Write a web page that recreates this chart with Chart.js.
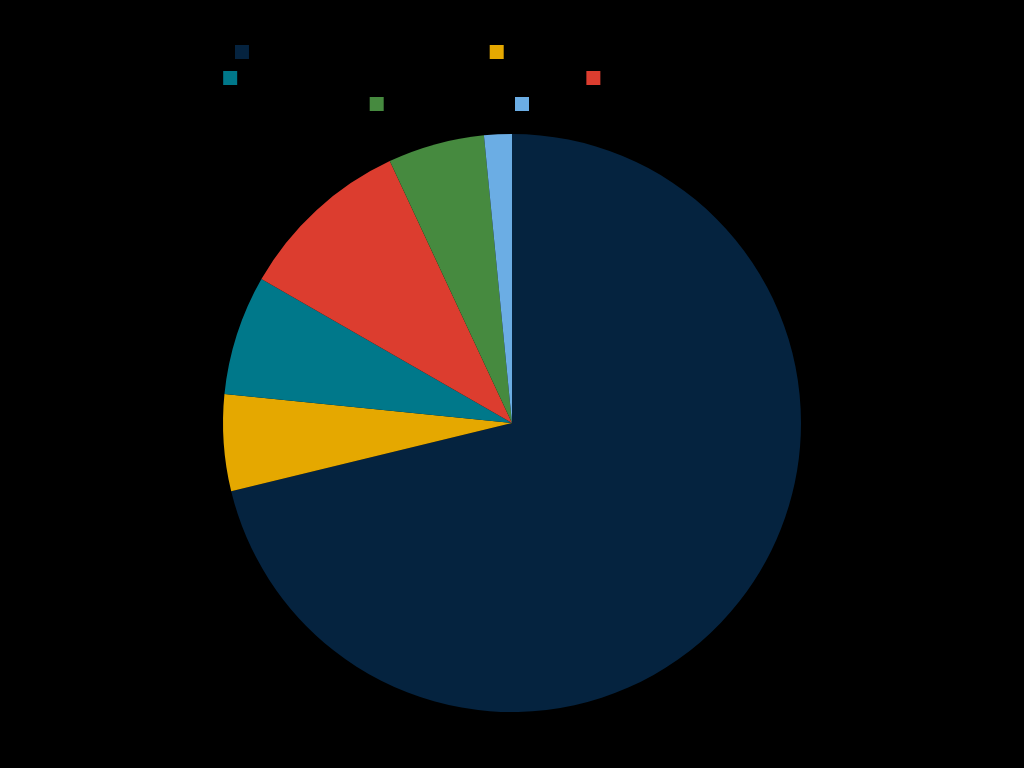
<!DOCTYPE html>
<html>
<head>
<meta charset="utf-8">
<script src="https://cdn.jsdelivr.net/npm/chart.js@4.4.0/dist/chart.umd.min.js"></script>
<style>
  html, body { margin: 0; padding: 0; background: #000; }
  #wrap { width: 1024px; height: 768px; }
</style>
</head>
<body>
<div id="wrap"><canvas id="c" width="1024" height="768"></canvas></div>
<script>
const categories = [
  "Direct Emissions across Operations",
  "Purchased Electricity, Heat and Refrigeration",
  "Upstream Transportation and Distribution of Products",
  "Business Travel via Air or Train",
  "Waste Generation",
  "Employee Vehicles"
];
const values = [71.2, 5.4, 6.7, 9.75, 5.4, 1.55];
const colors = ["#05233f", "#e5a800", "#00788a", "#dc3d2f", "#468a3f", "#6badE4"];

const legendGap = {
  id: 'legendGap',
  beforeInit(chart) {
    const origFit = chart.legend.fit;
    chart.legend.fit = function () {
      origFit.call(this);
      this.height += 13;
    };
  }
};

new Chart(document.getElementById('c'), {
  type: 'pie',
  data: {
    labels: categories,
    datasets: [{ data: values, backgroundColor: colors, borderWidth: 0 }]
  },
  options: {
    responsive: false,
    animation: false,
    layout: { padding: { top: 33, bottom: 56, left: 170, right: 170 } },
    plugins: {
      legend: {
        position: 'top',
        labels: { color: '#000', boxWidth: 14, boxHeight: 14, padding: 12, font: { size: 14 } }
      },
      tooltip: { enabled: false }
    }
  },
  plugins: [legendGap]
});
</script>
</body>
</html>
